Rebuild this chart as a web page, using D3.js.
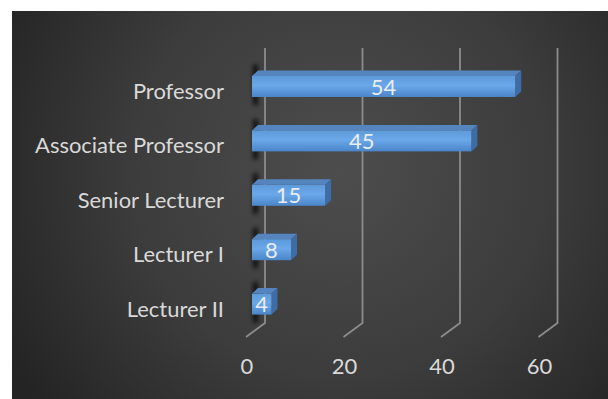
<!DOCTYPE html>
<html>
<head>
<meta charset="utf-8">
<script src="https://cdn.jsdelivr.net/npm/d3@7/dist/d3.min.js"></script>
<style>
  html, body { margin: 0; padding: 0; background: #ffffff; }
  svg { display: block; }
</style>
</head>
<body>
<svg id="chart" width="608" height="399"></svg>
<script>
// Staff counts by academic rank
const categories = ["Professor", "Associate Professor", "Senior Lecturer", "Lecturer I", "Lecturer II"];
const counts = [54, 45, 15, 8, 4];
const tickValues = [0, 20, 40, 60];

const W = 608, H = 399;
const svg = d3.select("#chart");
const defs = svg.append("defs");

// dark panel with soft radial light
const bgGrad = defs.append("radialGradient")
  .attr("id", "bgGrad").attr("gradientUnits", "userSpaceOnUse")
  .attr("cx", 340).attr("cy", 170).attr("r", 380);
bgGrad.append("stop").attr("offset", "0%").attr("stop-color", "#4d4d4d");
bgGrad.append("stop").attr("offset", "55%").attr("stop-color", "#3c3c3c");
bgGrad.append("stop").attr("offset", "100%").attr("stop-color", "#242424");

const frontGrad = defs.append("linearGradient")
  .attr("id", "frontGrad").attr("x1", 0).attr("y1", 0).attr("x2", 0).attr("y2", 1);
frontGrad.append("stop").attr("offset", "0%").attr("stop-color", "#5d9ad9");
frontGrad.append("stop").attr("offset", "45%").attr("stop-color", "#6aa8ea");
frontGrad.append("stop").attr("offset", "100%").attr("stop-color", "#4a85c8");

const blur = defs.append("filter").attr("id", "soft")
  .attr("x", "-150%").attr("y", "-50%").attr("width", "400%").attr("height", "200%");
blur.append("feGaussianBlur").attr("stdDeviation", 2.2);

svg.append("rect")
  .attr("x", 12).attr("y", 11).attr("width", W - 12).attr("height", H - 11)
  .attr("fill", "url(#bgGrad)");

// value axis (front floor edge) and category bands
const x = d3.scaleLinear().domain([0, 60]).range([246, 538.5]);
const y = d3.scaleBand().domain(categories).range([59.3, 331.3])
  .paddingInner(0.614).paddingOuter(0.307).align(0.5);

// 3D offsets: back wall relative to floor front, bar front plane, bar depth
const wall = { dx: 19, dy: -14 };
const barShift = 6;
const depth = { dx: 6, dy: -5.5 };
const wallTop = 48;
const wallBottom = 323;

// gridlines: vertical on back wall, then slanting forward across the floor
const grid = svg.append("g");
tickValues.forEach(t => {
  const xb = x(t) + wall.dx;
  grid.append("path")
    .attr("d", `M${xb},${wallTop} L${xb},${wallBottom} L${x(t)},${wallBottom - wall.dy}`)
    .attr("fill", "none").attr("stroke", "#8c8c8c").attr("stroke-width", 1.8);
});

// tick labels under the floor
svg.append("g").selectAll("text").data(tickValues).join("text")
  .attr("x", d => x(d) + 1)
  .attr("y", 374)
  .attr("text-anchor", "middle")
  .attr("fill", "#d9d9d9")
  .style("font-family", "Lato, 'Open Sans', sans-serif")
  .style("font-size", "22px")
  .text(d => d);

// bars
const bars = svg.append("g").selectAll("g").data(categories).join("g");
bars.each(function (c, i) {
  const g = d3.select(this);
  const x0 = x(0) + barShift;
  const x1 = x(counts[i]) + barShift;
  const top = y(c);
  const h = y.bandwidth();
  const bot = top + h;

  // shadow smudge on the wall behind the bar's left end
  g.append("rect")
    .attr("x", x0 + 1).attr("y", top + depth.dy - 6)
    .attr("width", 5).attr("height", h - depth.dy + 14)
    .attr("fill", "#000").attr("opacity", 0.75)
    .attr("filter", "url(#soft)");

  // top face
  g.append("path")
    .attr("d", `M${x0},${top} L${x0 + depth.dx},${top + depth.dy} L${x1 + depth.dx},${top + depth.dy} L${x1},${top} Z`)
    .attr("fill", "#5585bf");
  // side face
  g.append("path")
    .attr("d", `M${x1},${top} L${x1 + depth.dx},${top + depth.dy} L${x1 + depth.dx},${bot + depth.dy} L${x1},${bot} Z`)
    .attr("fill", "#3e6ca4");
  // front face
  g.append("rect")
    .attr("x", x0).attr("y", top).attr("width", x1 - x0).attr("height", h)
    .attr("fill", "url(#frontGrad)");

  // value label
  g.append("text")
    .attr("x", (x0 + x1) / 2).attr("y", top + h / 2 + 8)
    .attr("text-anchor", "middle")
    .attr("fill", "#e8ecf0")
    .style("font-family", "Lato, 'Open Sans', sans-serif")
    .style("font-size", "22px")
    .text(counts[i]);
});

// category labels, sized so the longest one spans its measured width
const catLabels = svg.append("g").selectAll("text").data(categories).join("text")
  .attr("x", 224)
  .attr("y", d => y(d) + y.bandwidth() / 2 + 12.5)
  .attr("text-anchor", "end")
  .attr("fill", "#d9d9d9")
  .style("font-family", "Lato, 'Open Sans', sans-serif")
  .style("font-size", "20px")
  .text(d => d);
const longest = catLabels.filter(d => d === "Associate Professor").node();
const w20 = longest.getComputedTextLength();
if (w20 > 0) catLabels.style("font-size", (20 * 189 / w20).toFixed(2) + "px");
</script>
</body>
</html>
